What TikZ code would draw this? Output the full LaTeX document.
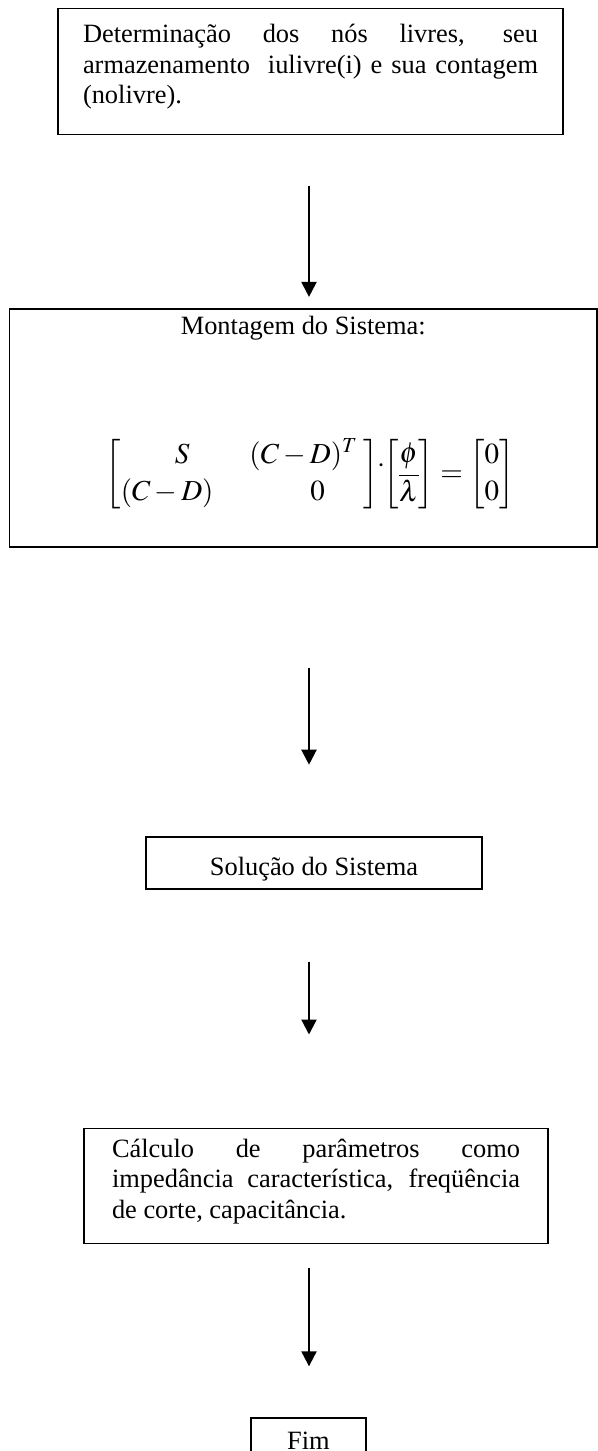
\documentclass[tikz,border=0pt]{standalone}
\usepackage{amsmath}
\usepackage{mathptmx}
\usepackage[no-math]{fontspec}
\setmainfont{Liberation Serif}
\usepackage{tikz}
\usetikzlibrary{arrows.meta,positioning}
\hyphenpenalty=10000
\exhyphenpenalty=10000
\tolerance=10000

\begin{document}
\begin{tikzpicture}[
  x=1pt, y=1pt,
  node distance=80pt,
  box/.style={rectangle, draw, line width=0.9pt, inner sep=0pt, font=\fontsize{13.2}{15.2}\selectfont},
  arr/.style={-{Triangle[width=7.5pt,length=7.5pt]}, line width=1.1pt}
]
\useasboundingbox (0,0) rectangle (299,-725.5);
\coordinate (axis) at (154.5,0);

\node[box, inner xsep=12.5pt, inner ysep=6.5pt] (livres) at (155.25,-35.75)
  {\parbox[c][50pt][t]{227.5pt}{\strut Determinação dos nós livres, seu armazenamento~ iulivre(i) e sua contagem (nolivre).}};
\node[box, below=86.25pt of livres, xshift=-3.625pt, inner xsep=6pt, inner ysep=2.4pt] (sistema)
  {\parbox[c][114.2pt][t]{281.75pt}{\centering\strut Montagem do Sistema:}};
\node[below=64pt of sistema.north, xshift=3.375pt, inner sep=0pt, font=\fontsize{14.5}{16.7}\selectfont] (eq)
  {$\renewcommand{\arraystretch}{1.12}\setlength{\arraycolsep}{9pt}\begin{bmatrix} \hspace{15pt}S & (C-D)^T\hspace{3pt} \\ (C-D) & \hspace{11pt}0 \end{bmatrix}\mkern-3mu\raisebox{4.5pt}{$\cdot$}\mkern-3mu\begin{bmatrix}\phi\\ \overline{\lambda}\end{bmatrix}=\begin{bmatrix}0\\ 0\end{bmatrix}$};
\node[box, below=144pt of sistema, xshift=5.375pt, minimum width=168pt, minimum height=26pt, text height=12.5pt, text depth=0pt] (solucao) {Solução do Sistema};
\node[box, below=119pt of solucao, xshift=1pt, inner xsep=14pt, inner ysep=3.9pt] (calculo)
  {\parbox[c][49.7pt][t]{204pt}{\strut Cálculo de parâmetros como impedância característica, freqüência de corte, capacitância.}};
\node[box, below=86.5pt of calculo, xshift=-3.75pt, minimum width=57.5pt, minimum height=27pt, text height=8.8pt, text depth=5pt] (fim) {Fim};

\draw[arr, shorten <=25.25pt, shorten >=5.5pt] (livres.south -| axis) -- (sistema.north -| axis);
\draw[arr, shorten <=60pt, shorten >=35.5pt] (sistema.south -| axis) -- (solucao.north -| axis);
\draw[arr, shorten <=36pt, shorten >=46.5pt] (solucao.south -| axis) -- (calculo.north -| axis);
\draw[arr, shorten <=12pt, shorten >=25.5pt] (calculo.south -| axis) -- (fim.north -| axis);
\end{tikzpicture}
\end{document}
